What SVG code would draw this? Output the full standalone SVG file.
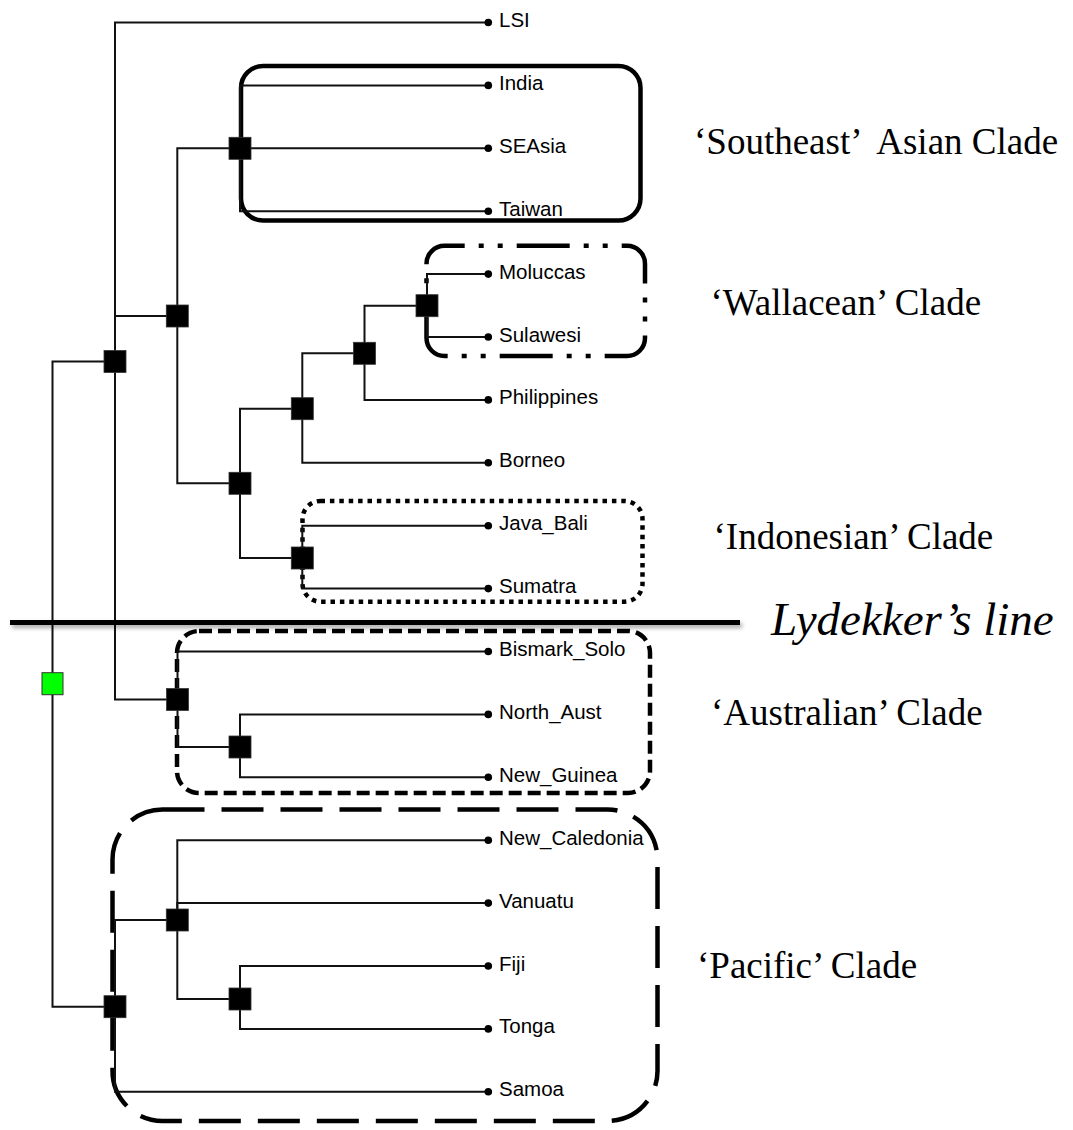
<svg xmlns="http://www.w3.org/2000/svg" width="1073" height="1130" viewBox="0 0 1073 1130">
<defs>
<style>
.br{fill:none;stroke:#111;stroke-width:2}
.nd{fill:#000;stroke:#333;stroke-width:0.8}
.dot{fill:#000}
.lf{font-family:"Liberation Sans",Arial,sans-serif;font-size:20.5px;fill:#000}
.cl{font-family:"Liberation Serif","Times New Roman",serif;font-size:37px;fill:#000}
.box{fill:none;stroke:#000;stroke-width:4.5}
</style>
<filter id="sh" filterUnits="userSpaceOnUse" x="0" y="600" width="760" height="50">
<feGaussianBlur stdDeviation="2"/>
</filter>
</defs>
<rect width="1073" height="1130" fill="#fff"/>

<g id="clade-boxes">
<rect id="box-southeast" class="box" x="241" y="66" width="399.5" height="154.5" rx="22"/>
<rect id="box-wallacean" class="box" x="426.5" y="245.8" width="218.5" height="110.2" rx="18" stroke-dasharray="53 14 5 14 5 14" stroke-dashoffset="32.8"/>
<rect id="box-indonesian" class="box" x="302.5" y="501" width="340" height="100.7" rx="18" stroke-dasharray="4.5 4.9"/>
<rect id="box-australian" class="box" x="177" y="631" width="473" height="162" rx="22" stroke-dasharray="13 6"/>
<rect id="box-pacific" class="box" x="112.5" y="809.5" width="545" height="311.5" rx="50" stroke-dasharray="42 17"/>
</g>

<g id="connectors">
<path class="br" d="M52.5 683.7V361.5H115"/>
<path class="br" d="M52.5 683.7V1006.7H115"/>
<path class="br" d="M115 361.5V22.5H488"/>
<path class="br" d="M115 361.5V316H177.3"/>
<path class="br" d="M115 361.5V699.5H177.5"/>
<path class="br" d="M177.3 316V148.3H240"/>
<path class="br" d="M177.3 316V483.3H240"/>
<path class="br" d="M240 148.3V85.4H488"/>
<path class="br" d="M240 148.3H488"/>
<path class="br" d="M240 148.3V211.2H488"/>
<path class="br" d="M240 483.3V408.7H302.3"/>
<path class="br" d="M240 483.3V558H302.3"/>
<path class="br" d="M302.3 408.7V353.3H364.5"/>
<path class="br" d="M302.3 408.7V462.8H488"/>
<path class="br" d="M364.5 353.3V305.7H427"/>
<path class="br" d="M364.5 353.3V399.9H488"/>
<path class="br" d="M427 305.7V274.1H488"/>
<path class="br" d="M427 305.7V337H488"/>
<path class="br" d="M302.3 558V525.7H488"/>
<path class="br" d="M302.3 558V588.6H488"/>
<path class="br" d="M177.5 699.5V651.5H488"/>
<path class="br" d="M177.5 699.5V747H240"/>
<path class="br" d="M240 747V714.4H488"/>
<path class="br" d="M240 747V777.3H488"/>
<path class="br" d="M115 1006.7V920H177.3"/>
<path class="br" d="M115 1006.7V1091.8H488"/>
<path class="br" d="M177.3 920V840.2H488"/>
<path class="br" d="M177.3 920V903.1H488"/>
<path class="br" d="M177.3 920V999H240"/>
<path class="br" d="M240 999V966H488"/>
<path class="br" d="M240 999V1028.9H488"/>
</g>

<g id="internal-nodes">
<g id="n-root"><rect x="42" y="672.7" width="21" height="22" fill="#00ff00" stroke="#333" stroke-width="1"/></g>
<g id="n-A"><rect class="nd" x="104" y="350.5" width="22" height="22"/></g>
<g id="n-B"><rect class="nd" x="166.3" y="305" width="22" height="22"/></g>
<g id="n-SEA"><rect class="nd" x="229" y="137.3" width="22" height="22"/></g>
<g id="n-C"><rect class="nd" x="229" y="472.3" width="22" height="22"/></g>
<g id="n-D"><rect class="nd" x="291.3" y="397.7" width="22" height="22"/></g>
<g id="n-E"><rect class="nd" x="353.5" y="342.3" width="22" height="22"/></g>
<g id="n-W"><rect class="nd" x="416" y="294.7" width="22" height="22"/></g>
<g id="n-I"><rect class="nd" x="291.3" y="547" width="22" height="22"/></g>
<g id="n-Aus"><rect class="nd" x="166.5" y="688.5" width="22" height="22"/></g>
<g id="n-NG"><rect class="nd" x="229" y="736" width="22" height="22"/></g>
<g id="n-P"><rect class="nd" x="104" y="995.7" width="22" height="22"/></g>
<g id="n-Q"><rect class="nd" x="166.3" y="909" width="22" height="22"/></g>
<g id="n-R"><rect class="nd" x="229" y="988" width="22" height="22"/></g>
</g>

<g id="leaves">
<g id="leaf-LSI"><circle class="dot" cx="488.3" cy="22.5" r="3.8"/><text class="lf" x="499" y="27">LSI</text></g>
<g id="leaf-India"><circle class="dot" cx="488.3" cy="85.4" r="3.8"/><text class="lf" x="499" y="89.9">India</text></g>
<g id="leaf-SEAsia"><circle class="dot" cx="488.3" cy="148.3" r="3.8"/><text class="lf" x="499" y="152.8">SEAsia</text></g>
<g id="leaf-Taiwan"><circle class="dot" cx="488.3" cy="211.2" r="3.8"/><text class="lf" x="499" y="215.7">Taiwan</text></g>
<g id="leaf-Moluccas"><circle class="dot" cx="488.3" cy="274.1" r="3.8"/><text class="lf" x="499" y="278.6">Moluccas</text></g>
<g id="leaf-Sulawesi"><circle class="dot" cx="488.3" cy="337" r="3.8"/><text class="lf" x="499" y="341.5">Sulawesi</text></g>
<g id="leaf-Philippines"><circle class="dot" cx="488.3" cy="399.9" r="3.8"/><text class="lf" x="499" y="404.4">Philippines</text></g>
<g id="leaf-Borneo"><circle class="dot" cx="488.3" cy="462.8" r="3.8"/><text class="lf" x="499" y="467.3">Borneo</text></g>
<g id="leaf-Java_Bali"><circle class="dot" cx="488.3" cy="525.7" r="3.8"/><text class="lf" x="499" y="530.2">Java_Bali</text></g>
<g id="leaf-Sumatra"><circle class="dot" cx="488.3" cy="588.6" r="3.8"/><text class="lf" x="499" y="593.1">Sumatra</text></g>
<g id="leaf-Bismark_Solo"><circle class="dot" cx="488.3" cy="651.5" r="3.8"/><text class="lf" x="499" y="656">Bismark_Solo</text></g>
<g id="leaf-North_Aust"><circle class="dot" cx="488.3" cy="714.4" r="3.8"/><text class="lf" x="499" y="718.9">North_Aust</text></g>
<g id="leaf-New_Guinea"><circle class="dot" cx="488.3" cy="777.3" r="3.8"/><text class="lf" x="499" y="781.8">New_Guinea</text></g>
<g id="leaf-New_Caledonia"><circle class="dot" cx="488.3" cy="840.2" r="3.8"/><text class="lf" x="499" y="844.7">New_Caledonia</text></g>
<g id="leaf-Vanuatu"><circle class="dot" cx="488.3" cy="903.1" r="3.8"/><text class="lf" x="499" y="907.6">Vanuatu</text></g>
<g id="leaf-Fiji"><circle class="dot" cx="488.3" cy="966" r="3.8"/><text class="lf" x="499" y="970.5">Fiji</text></g>
<g id="leaf-Tonga"><circle class="dot" cx="488.3" cy="1028.9" r="3.8"/><text class="lf" x="499" y="1033.4">Tonga</text></g>
<g id="leaf-Samoa"><circle class="dot" cx="488.3" cy="1091.8" r="3.8"/><text class="lf" x="499" y="1096.3">Samoa</text></g>
</g>

<g id="lydekker">
<line x1="12" y1="625.5" x2="742" y2="625.5" stroke="#000" stroke-opacity="0.35" stroke-width="5" filter="url(#sh)"/>
<line x1="10" y1="622.5" x2="740" y2="622.5" stroke="#000" stroke-width="5"/>
<text x="771" y="635" font-family="'Liberation Serif','Times New Roman',serif" font-size="47" font-style="italic" fill="#000">Lydekker’s line</text>
</g>

<g id="clade-labels">
<text id="lbl-southeast" class="cl" x="694" y="154" xml:space="preserve">‘Southeast’  Asian Clade</text>
<text id="lbl-wallacean" class="cl" x="710.5" y="314.5">‘Wallacean’ Clade</text>
<text id="lbl-indonesian" class="cl" x="713.5" y="548.5">‘Indonesian’ Clade</text>
<text id="lbl-australian" class="cl" x="711" y="725">‘Australian’ Clade</text>
<text id="lbl-pacific" class="cl" x="697" y="978">‘Pacific’ Clade</text>
</g>
</svg>
